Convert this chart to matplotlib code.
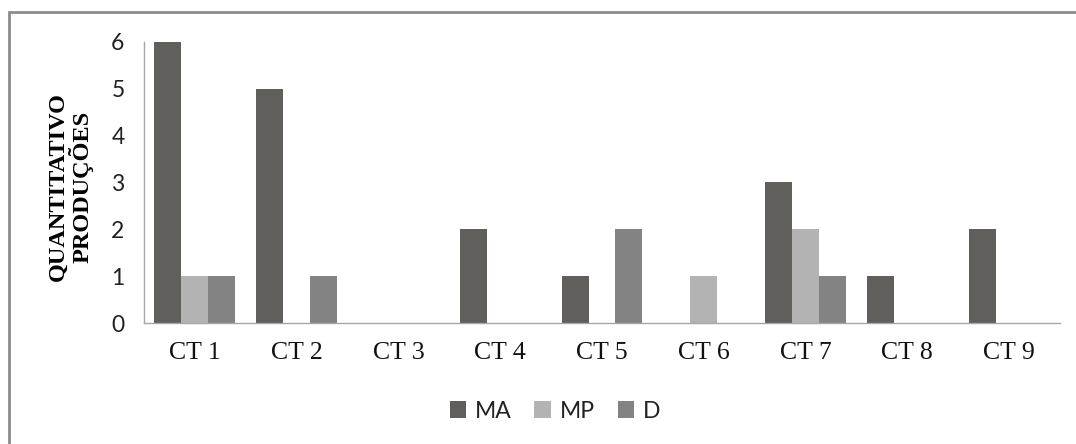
import numpy as np
from matplotlib import pyplot as plt
from matplotlib.patches import Rectangle

# data
categories = ["CT 1", "CT 2", "CT 3", "CT 4", "CT 5", "CT 6", "CT 7", "CT 8", "CT 9"]
ma_values = [6, 5, 0, 2, 1, 0, 3, 1, 2]
mp_values = [1, 0, 0, 0, 0, 1, 2, 0, 0]
d_values = [1, 1, 0, 0, 2, 0, 1, 0, 0]
y_ticks = [0, 1, 2, 3, 4, 5, 6]

SERIES = [
    ("MA", ma_values, "#605f5c"),
    ("MP", mp_values, "#b3b3b3"),
    ("D", d_values, "#838383"),
]

W, H = 1076, 444
fig = plt.figure(figsize=(W / 100, H / 100), dpi=100)
ax = fig.add_axes([144 / W, 1 - 323 / H, (1060 - 144) / W, (323 - 42) / H])

x = np.arange(len(categories))
bar_w = 0.265
for i, (label, vals, color) in enumerate(SERIES):
    ax.bar(x + (i - 1) * bar_w, vals, bar_w, color=color, label=label, linewidth=0)

ax.set_xlim(-0.5, len(categories) - 0.5)
ax.set_ylim(0, 6)
ax.set_yticks(y_ticks)
ax.set_yticklabels([str(t) for t in y_ticks], family="Lato", fontsize=16.5, color="#222222")
ax.set_xticks(x)
ax.set_xticklabels(categories, family="Liberation Serif", fontsize=18.5, color="#111111")
ax.tick_params(axis="both", length=0)
ax.tick_params(axis="y", pad=14)
ax.tick_params(axis="x", pad=14)

for side in ("top", "right"):
    ax.spines[side].set_visible(False)
for side in ("left", "bottom"):
    ax.spines[side].set_color("#a6a6a6")
    ax.spines[side].set_linewidth(1)

ax.set_ylabel("QUANTITATIVO\nPRODUÇÕES", family="Liberation Serif", fontweight="bold",
              fontsize=17.5, linespacing=1.0)
ax.yaxis.set_label_coords(-(144 - 94) / (1060 - 144), 0.485)

fig.legend(loc="center", bbox_to_anchor=(555 / W, 1 - 411 / H), ncol=3, frameon=False,
           prop={"family": "Lato", "size": 16.5}, handlelength=0.7, handleheight=0.7,
           handletextpad=0.4, columnspacing=1.0, labelcolor="#222222")

# outer chart border (runs off the right and bottom edge)
fig.patches.append(Rectangle((9 / W, -0.1), 1.2, 1 - 12 / H + 0.1, transform=fig.transFigure,
                             fill=False, edgecolor="#8c8c8c", linewidth=2))

fig.savefig("out.png", dpi=100)
